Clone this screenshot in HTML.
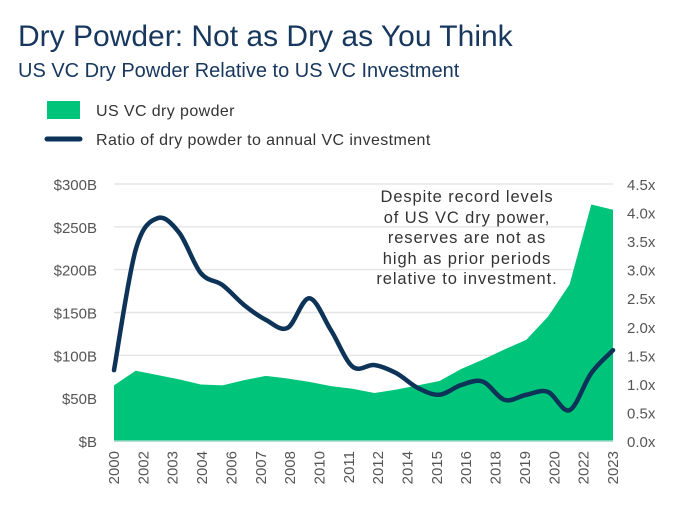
<!DOCTYPE html>
<html><head><meta charset="utf-8"><style>
body{margin:0;background:#fff;}
svg text{font-family:"Liberation Sans",sans-serif;}
</style></head><body>
<svg width="690" height="526" xmlns="http://www.w3.org/2000/svg">
<text x="18" y="46" font-size="30" fill="#17375e">Dry Powder: Not as Dry as You Think</text>
<text x="18" y="77" font-size="20" fill="#17375e">US VC Dry Powder Relative to US VC Investment</text>
<rect x="47" y="101" width="33" height="18" fill="#00c47a"/>
<text x="96" y="116" font-size="16" fill="#333" letter-spacing="0.4">US VC dry powder</text>
<line x1="47" y1="139" x2="80" y2="139" stroke="#0d3358" stroke-width="5" stroke-linecap="round"/>
<text x="96" y="145" font-size="16" fill="#333" letter-spacing="0.4">Ratio of dry powder to annual VC investment</text>
<g id="grid"></g>
<g id="area"></g>
<g id="line"></g>
<g id="axes"></g>
<g font-size="16.5" fill="#333" letter-spacing="0.9" text-anchor="middle">
<text x="467" y="202">Despite record levels</text>
<text x="467" y="223">of US VC dry power,</text>
<text x="467" y="243">reserves are not as</text>
<text x="467" y="264">high as prior periods</text>
<text x="467" y="284">relative to investment.</text>
</g>
</svg>
<script>
const years=[2000,2001,2002,2003,2004,2005,2006,2007,2008,2009,2010,2011,2012,2013,2014,2015,2016,2017,2018,2019,2020,2021,2022,2023];
const dryPowder=[65,82,77,72,66,65,71,76,73,69,64,61,56,60,65,70,84,95,107,118,145,183,276,270];
const ratio=[1.24,3.35,3.9,3.65,2.94,2.73,2.38,2.12,1.98,2.5,1.94,1.30,1.33,1.19,0.93,0.81,0.98,1.04,0.72,0.81,0.86,0.54,1.19,1.59];
const leftTicks=[0,50,100,150,200,250,300];
const leftLabels=["$B","$50B","$100B","$150B","$200B","$250B","$300B"];
const rightTicks=[0,0.5,1,1.5,2,2.5,3,3.5,4,4.5];
const rightLabels=["0.0x","0.5x","1.0x","1.5x","2.0x","2.5x","3.0x","3.5x","4.0x","4.5x"];
const xLabels=["2000","2002","2003","2004","2006","2007","2008","2010","2011","2012","2014","2015","2016","2018","2019","2020","2022","2023"];
const X0=114,X1=613,Y0=441,Y1=184;
const xs=i=>X0+(X1-X0)*i/(years.length-1);
const yl=v=>Y0-(Y0-Y1)*v/300;
const yr=v=>Y0-(Y0-Y1)*v/4.5;
const NS="http://www.w3.org/2000/svg";
function mk(t,a,p){const e=document.createElementNS(NS,t);for(const k in a)e.setAttribute(k,a[k]);p.appendChild(e);return e;}
const grid=document.getElementById('grid'),axes=document.getElementById('axes');
leftTicks.forEach((v,i)=>{
 if(v>0){const g=mk('line',{x1:X0,x2:X1,y1:yl(v),y2:yl(v),stroke:'#e6e6e6','stroke-width':1.5},grid);
 
 }
 const t=mk('text',{x:97,y:yl(v)+6,'font-size':15,fill:'#555','text-anchor':'end'},axes);t.textContent=leftLabels[i];
 
 
});
rightTicks.forEach((v,i)=>{
 const t=mk('text',{x:627,y:yr(v)+6,'font-size':15,fill:'#555'},axes);t.textContent=rightLabels[i];
 
 
});
xLabels.forEach((l,i)=>{
 const x=X0+(X1-X0)*i/(xLabels.length-1);
 const t=mk('text',{x:0,y:0,'font-size':15,fill:'#555','text-anchor':'end',transform:`translate(${x+5},${451}) rotate(-90)`},axes);t.textContent=l;
 
 
});
let d=`M${X0},${Y0}`;dryPowder.forEach((v,i)=>d+=` L${xs(i)},${yl(v)}`);d+=` L${X1},${Y0}Z`;
const a=mk('path',{d:d,fill:'#00c47a'},document.getElementById('area'));


const base=mk('line',{x1:X0,x2:X1,y1:Y0,y2:Y0,stroke:'#9ad9c4','stroke-width':1.5},axes);


const P=ratio.map((v,i)=>[xs(i),yr(v)]);
let ld=`M${P[0][0]},${P[0][1]}`;
for(let i=0;i<P.length-1;i++){const p0=P[i-1]||P[i],p1=P[i],p2=P[i+1],p3=P[i+2]||P[i+1];
 ld+=` C${p1[0]+(p2[0]-p0[0])/6},${p1[1]+(p2[1]-p0[1])/6} ${p2[0]-(p3[0]-p1[0])/6},${p2[1]-(p3[1]-p1[1])/6} ${p2[0]},${p2[1]}`;}
const ln=mk('path',{d:ld,fill:'none',stroke:'#0d3358','stroke-width':4.5,'stroke-linecap':'round','stroke-linejoin':'round'},document.getElementById('line'));


</script>
</body></html>
